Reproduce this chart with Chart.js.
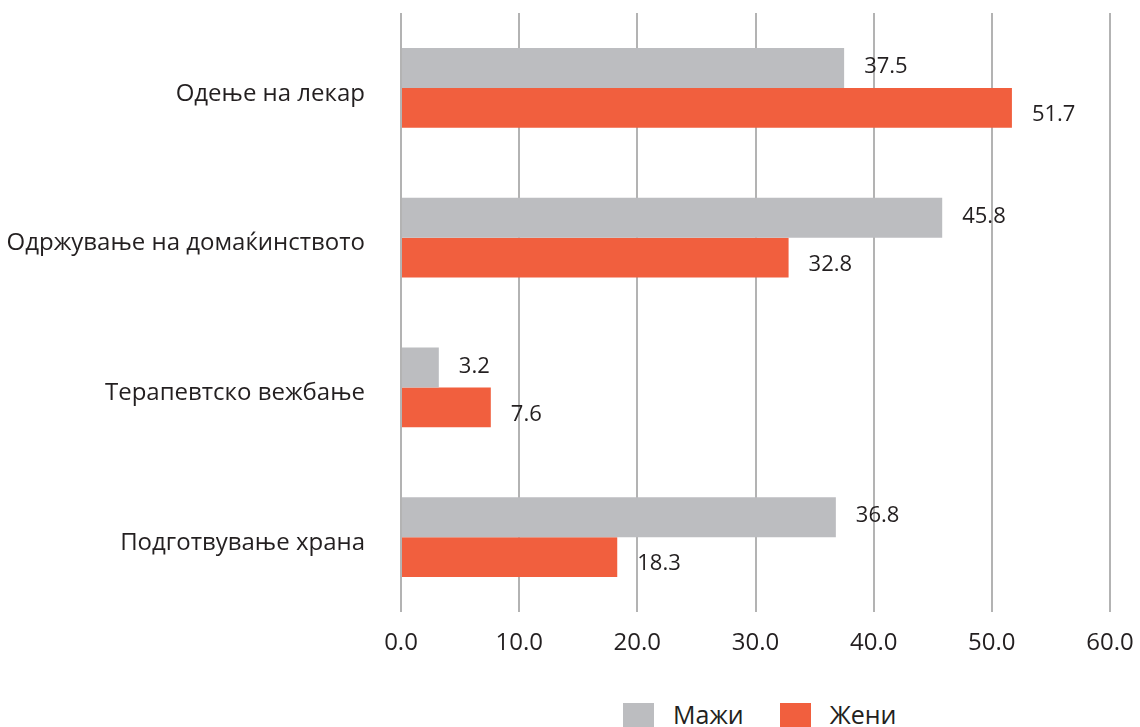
<!DOCTYPE html>
<html>
<head>
<meta charset="utf-8">
<script src="https://cdn.jsdelivr.net/npm/chart.js@4/dist/chart.umd.min.js"></script>
<style>
    html, body { margin: 0; padding: 0; background: #fff; }
    #wrap { position: relative; width: 1140px; height: 727px; overflow: hidden; }
    #box { position: absolute; left: 0; top: 0; width: 1140px; height: 665px; }
    #legend { position: absolute; left: 623px; top: 699px; font-family: "Open Sans", sans-serif; font-size: 25px; line-height: 31px; color: #231f20; white-space: nowrap; }
    #legend span.sw { display: inline-block; width: 31px; height: 31px; vertical-align: top; margin-top: 4px; margin-right: 19px; }
    #legend span.item { margin-right: 36px; }
</style>
</head>
<body>
<div id="wrap">
    <div id="box"><canvas id="barChart"></canvas></div>
    <div id="legend"></div>
</div>
<script>
const categories = ['Одење на лекар', 'Одржување на домаќинството', 'Терапевтско вежбање', 'Подготвување храна'];
const seriesNames = ['Мажи', 'Жени'];
const men = [37.5, 45.8, 3.2, 36.8];
const women = [51.7, 32.8, 7.6, 18.3];
const xTicks = [0, 10, 20, 30, 40, 50, 60];

const colors = ['#bcbdc0', '#f15f3e'];
const labelShiftY = [-1, 7];

// value labels at the end of each bar
const valueLabels = {
    id: 'valueLabels',
    afterDatasetsDraw(chart) {
        const ctx = chart.ctx;
        ctx.save();
        ctx.font = '22px "Open Sans", sans-serif';
        ctx.fillStyle = '#231f20';
        ctx.textAlign = 'left';
        ctx.textBaseline = 'middle';
        chart.data.datasets.forEach((ds, i) => {
            chart.getDatasetMeta(i).data.forEach((bar, j) => {
                ctx.fillText(ds.data[j].toFixed(1), bar.x + 20, bar.y + labelShiftY[i]);
            });
        });
        ctx.restore();
    }
};

const ctx = document.getElementById('barChart').getContext('2d');
new Chart(ctx, {
    type: 'bar',
    data: {
        labels: categories,
        datasets: [
            { label: seriesNames[0], data: men, backgroundColor: colors[0] },
            { label: seriesNames[1], data: women, backgroundColor: colors[1] }
        ]
    },
    options: {
        indexAxis: 'y',
        responsive: true,
        maintainAspectRatio: false,
        animation: false,
        layout: { padding: { top: 13, right: 30, left: 0, bottom: 0 } },
        datasets: { bar: { categoryPercentage: 0.533, barPercentage: 1.0 } },
        plugins: {
            legend: { display: false },
            tooltip: { enabled: false }
        },
        scales: {
            x: {
                min: 0, max: 60,
                afterBuildTicks(scale) { scale.ticks = xTicks.map(v => ({ value: v })); },
                afterFit(scale) { scale.height = 53; scale.paddingRight = 0; scale.paddingLeft = 0; },
                grid: { color: '#b3b3b3', lineWidth: 2, drawTicks: false },
                border: { display: false },
                ticks: {
                    color: '#231f20',
                    padding: 17,
                    font: { family: '"Open Sans", sans-serif', size: 24 },
                    callback: v => Number(v).toFixed(1)
                }
            },
            y: {
                afterFit(scale) { scale.width = 401; scale.paddingTop = 0; scale.paddingBottom = 0; },
                grid: { display: false },
                border: { display: false },
                ticks: {
                    color: '#231f20',
                    padding: 28,
                    labelOffset: 6,
                    font: { family: '"Open Sans", sans-serif', size: 24 }
                }
            }
        }
    },
    plugins: [valueLabels]
});

document.getElementById('legend').innerHTML = seriesNames.map((n, i) =>
    `<span class="item"><span class="sw" style="background:${colors[i]}"></span>${n}</span>`).join('');
</script>
</body>
</html>
